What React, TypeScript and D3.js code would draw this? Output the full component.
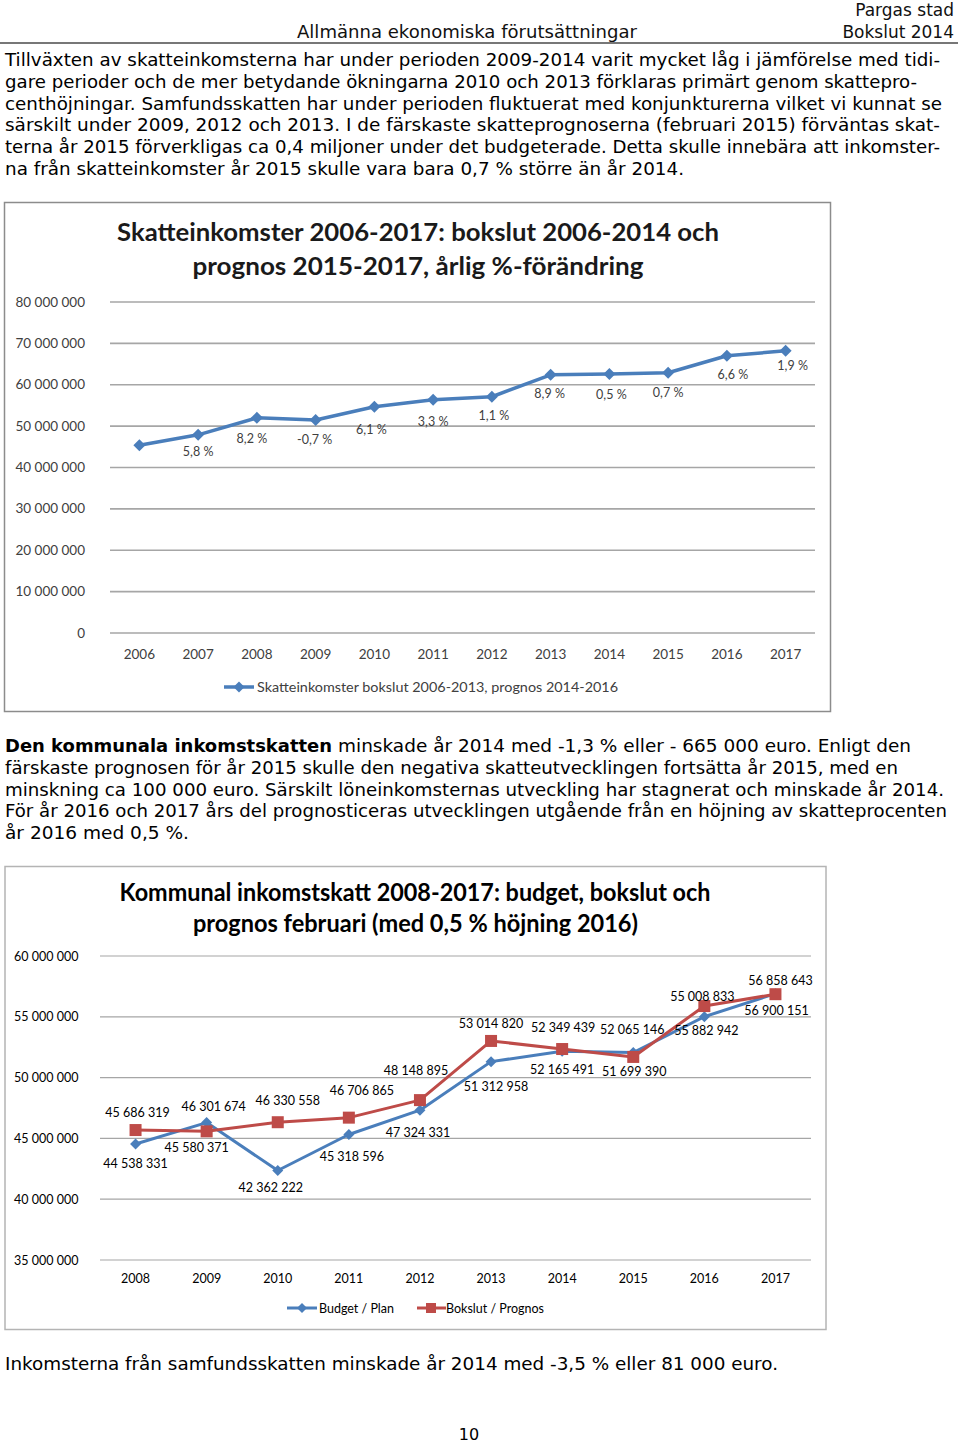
import React from "react";
import * as d3 from "d3";

// ---------- data ----------
const years1 = ["2006", "2007", "2008", "2009", "2010", "2011", "2012", "2013", "2014", "2015", "2016", "2017"];
const tax1 = [45400000, 47900000, 52000000, 51500000, 54700000, 56400000, 57100000, 62400000, 62600000, 62900000, 67000000, 68200000];
const pct1 = ["", "5,8 %", "8,2 %", "-0,7 %", "6,1 %", "3,3 %", "1,1 %", "8,9 %", "0,5 %", "0,7 %", "6,6 %", "1,9 %"];
const yTicks1 = [0, 10000000, 20000000, 30000000, 40000000, 50000000, 60000000, 70000000, 80000000];
const legend1 = "Skatteinkomster bokslut 2006-2013, prognos 2014-2016";

const years2 = ["2008", "2009", "2010", "2011", "2012", "2013", "2014", "2015", "2016", "2017"];
const budget2 = [44538331, 46301674, 42362222, 45318596, 47324331, 51312958, 52165491, 52065146, 55008833, 56900151];
const bokslut2 = [45686319, 45580371, 46330558, 46706865, 48148895, 53014820, 52349439, 51699390, 55882942, 56858643];
const yTicks2 = [35000000, 40000000, 45000000, 50000000, 55000000, 60000000];
const seriesNames2 = ["Budget / Plan", "Bokslut / Prognos"];

// ---------- label placement (layout only) ----------
const pctOffsets1: [number, number][] = [[0, 0], [0, 17], [-5, 21], [-1, 20], [-3, 23], [0, 22], [2, 19], [-1, 19], [2, 21], [0, 20], [6, 19], [7, 15]];
const budgetOffsets2: [number, number][] = [[0, 24], [7, -12], [-7, 22], [3, 26], [-2, 27], [5, 29], [0, 23], [-1, -18], [-2, -16], [1, 21]];
const bokslutOffsets2: [number, number][] = [[2, -13], [-10, 21], [10, -17], [13, -23], [-4, -25], [0, -13], [1, -17], [1, 19], [2, 29], [5, -9]];

// ---------- text ----------
const para1 = [
  { t: "Tillväxten av skatteinkomsterna har under perioden 2009-2014 varit mycket låg i jämförelse med tidi-", w: 935 },
  { t: "gare perioder och de mer betydande ökningarna 2010 och 2013 förklaras primärt genom skattepro-", w: 912 },
  { t: "centhöjningar. Samfundsskatten har under perioden fluktuerat med konjunkturerna vilket vi kunnat se", w: 937 },
  { t: "särskilt under 2009, 2012 och 2013.  I de färskaste skatteprognoserna (februari 2015) förväntas skat-", w: 935 },
  { t: "terna år 2015 förverkligas ca 0,4 miljoner under det budgeterade. Detta skulle innebära att inkomster-", w: 935 },
  { t: "na från skatteinkomster år 2015 skulle vara bara 0,7 % större än år 2014.", w: 679 },
];
const para2 = [
  { t: "minskade år 2014 med -1,3 % eller - 665 000 euro. Enligt den", w: 573 },
  { t: "färskaste prognosen för år 2015 skulle den negativa skatteutvecklingen fortsätta år 2015, med en", w: 893 },
  { t: "minskning ca 100 000 euro. Särskilt löneinkomsternas utveckling har stagnerat och minskade år 2014.", w: 939 },
  { t: "För år 2016 och 2017 års del prognosticeras utvecklingen utgående från en höjning av skatteprocenten", w: 942 },
  { t: "år 2016 med 0,5 %.", w: 184 },
];

const BODY = "'DejaVu Sans', Verdana, sans-serif";
const CAL = "Lato, 'Open Sans', sans-serif";
const BLUE = "#4A7EBB";
const RED = "#BE4B48";
const GRID = "#a6a6a6";

const fmt = (v: number) => d3.format(",")(v).replace(/,/g, " ");

const diamond = (size: number) => {
  const s = size / 2;
  return `M0,${-s}L${s},0L0,${s}L${-s},0Z`;
};

function Chart1() {
  const x = d3.scaleBand().domain(years1).range([110, 815]);
  const cx = (d: string) => (x(d) as number) + x.bandwidth() / 2;
  const y = d3.scaleLinear().domain([0, 80000000]).range([633, 302]);
  const line = d3.line<number>().x((_, i) => cx(years1[i])).y((d) => y(d));
  return (
    <g>
      <rect x={4.5} y={202.5} width={826} height={509} fill="#fff" stroke="#8c8c8c" strokeWidth={1.5} />
      <text x={418} y={241} textAnchor="middle" fontFamily={CAL} fontWeight={700} fontSize={25} fill="#1a1a1a" textLength={602} lengthAdjust="spacingAndGlyphs">
        Skatteinkomster 2006-2017: bokslut 2006-2014 och
      </text>
      <text x={418} y={275} textAnchor="middle" fontFamily={CAL} fontWeight={700} fontSize={25} fill="#1a1a1a" textLength={451} lengthAdjust="spacingAndGlyphs">
        prognos 2015-2017, årlig %-förändring
      </text>
      {yTicks1.map((t) => (
        <g key={t}>
          <line x1={110} x2={815} y1={y(t)} y2={y(t)} stroke={GRID} strokeWidth={1.6} />
          <text x={85} y={y(t) + 4.5} textAnchor="end" fontFamily={CAL} fontSize={13.5} fill="#404040">
            {fmt(t)}
          </text>
        </g>
      ))}
      {years1.map((yr) => (
        <text key={yr} x={cx(yr)} y={659} textAnchor="middle" fontFamily={CAL} fontSize={13.5} fill="#404040">
          {yr}
        </text>
      ))}
      <path d={line(tax1) || ""} fill="none" stroke={BLUE} strokeWidth={3.5} strokeLinejoin="round" />
      {tax1.map((v, i) => (
        <path key={i} d={diamond(12)} transform={`translate(${cx(years1[i])},${y(v)})`} fill={BLUE} />
      ))}
      {tax1.map((v, i) =>
        pct1[i] ? (
          <text key={"p" + i} x={cx(years1[i]) + pctOffsets1[i][0]} y={y(v) + pctOffsets1[i][1] + 4.5} textAnchor="middle" fontFamily={CAL} fontSize={12.5} fill="#404040">
            {pct1[i]}
          </text>
        ) : null
      )}
      <line x1={224} x2={254} y1={687} y2={687} stroke={BLUE} strokeWidth={3.5} />
      <path d={diamond(11)} transform="translate(239,687)" fill={BLUE} />
      <text x={257} y={691.5} fontFamily={CAL} fontSize={13.5} fill="#404040" textLength={361} lengthAdjust="spacingAndGlyphs">
        {legend1}
      </text>
    </g>
  );
}

function Chart2() {
  const x = d3.scaleBand().domain(years2).range([100, 811]);
  const cx = (d: string) => (x(d) as number) + x.bandwidth() / 2;
  const y = d3.scaleLinear().domain([35000000, 60000000]).range([1260, 956]);
  const line = d3.line<number>().x((_, i) => cx(years2[i])).y((d) => y(d));
  return (
    <g>
      <rect x={5} y={866.5} width={821} height={463} fill="#fff" stroke="#b4b4b4" strokeWidth={1.5} />
      <text x={415} y={901} textAnchor="middle" fontFamily={CAL} fontWeight={700} fontSize={24} fill="#000" textLength={591} lengthAdjust="spacingAndGlyphs">
        Kommunal inkomstskatt 2008-2017: budget, bokslut och
      </text>
      <text x={415.5} y={932} textAnchor="middle" fontFamily={CAL} fontWeight={700} fontSize={24} fill="#000" textLength={445} lengthAdjust="spacingAndGlyphs">
        prognos februari (med 0,5 % höjning 2016)
      </text>
      {yTicks2.map((t) => (
        <g key={t}>
          <line x1={100} x2={811} y1={y(t)} y2={y(t)} stroke={GRID} strokeWidth={1.2} />
          <text x={14} y={y(t) + 4.5} fontFamily={CAL} fontSize={12.5} fill="#000">
            {fmt(t)}
          </text>
        </g>
      ))}
      {years2.map((yr) => (
        <text key={yr} x={cx(yr)} y={1283} textAnchor="middle" fontFamily={CAL} fontSize={12.5} fill="#000">
          {yr}
        </text>
      ))}
      <path d={line(budget2) || ""} fill="none" stroke={BLUE} strokeWidth={3} strokeLinejoin="round" />
      {budget2.map((v, i) => (
        <path key={"b" + i} d={diamond(11)} transform={`translate(${cx(years2[i])},${y(v)})`} fill={BLUE} />
      ))}
      <path d={line(bokslut2) || ""} fill="none" stroke={RED} strokeWidth={3} strokeLinejoin="round" />
      {bokslut2.map((v, i) => (
        <rect key={"r" + i} x={cx(years2[i]) - 6} y={y(v) - 6} width={12} height={12} fill={RED} />
      ))}
      {budget2.map((v, i) => (
        <text key={"bl" + i} x={cx(years2[i]) + budgetOffsets2[i][0]} y={y(v) + budgetOffsets2[i][1]} textAnchor="middle" fontFamily={CAL} fontSize={12.5} fill="#000">
          {fmt(v)}
        </text>
      ))}
      {bokslut2.map((v, i) => (
        <text key={"rl" + i} x={cx(years2[i]) + bokslutOffsets2[i][0]} y={y(v) + bokslutOffsets2[i][1]} textAnchor="middle" fontFamily={CAL} fontSize={12.5} fill="#000">
          {fmt(v)}
        </text>
      ))}
      <line x1={287} x2={317} y1={1308} y2={1308} stroke={BLUE} strokeWidth={3} />
      <path d={diamond(10)} transform="translate(302,1308)" fill={BLUE} />
      <text x={319} y={1312.5} fontFamily={CAL} fontSize={12.5} fill="#000">
        {seriesNames2[0]}
      </text>
      <line x1={417} x2={446} y1={1308} y2={1308} stroke={RED} strokeWidth={3} />
      <rect x={426} y={1303} width={10} height={10} fill={RED} />
      <text x={446} y={1312.5} fontFamily={CAL} fontSize={12.5} fill="#000">
        {seriesNames2[1]}
      </text>
    </g>
  );
}

export default function App() {
  return (
    <svg width={960} height={1443} style={{ position: "absolute", left: 0, top: 0, display: "block", background: "#fff" }}>
      <rect x={0} y={0} width={960} height={1443} fill="#fff" />
      {/* header */}
      <text x={954} y={16} textAnchor="end" fontFamily={BODY} fontSize={17} fill="#111">Pargas stad</text>
      <text x={954} y={38} textAnchor="end" fontFamily={BODY} fontSize={17} fill="#111">Bokslut 2014</text>
      <text x={297} y={38} fontFamily={BODY} fontSize={17} fill="#111" textLength={340} lengthAdjust="spacingAndGlyphs">
        Allmänna ekonomiska förutsättningar
      </text>
      <line x1={0} x2={958} y1={43} y2={43} stroke="#777" strokeWidth={2} />
      {para1.map((l, i) => (
        <text key={"a" + i} x={5} y={66 + i * 21.8} fontFamily={BODY} fontSize={17} fill="#000" textLength={l.w} lengthAdjust="spacingAndGlyphs">
          {l.t}
        </text>
      ))}
      <Chart1 />
      <text x={5} y={752} fontFamily={BODY} fontSize={17} fontWeight={700} fill="#000" textLength={327} lengthAdjust="spacingAndGlyphs">
        Den kommunala inkomstskatten
      </text>
      {para2.map((l, i) => (
        <text key={"b" + i} x={i === 0 ? 338 : 5} y={752 + i * 21.8} fontFamily={BODY} fontSize={17} fill="#000" textLength={l.w} lengthAdjust="spacingAndGlyphs">
          {l.t}
        </text>
      ))}
      <Chart2 />
      <text x={5} y={1370} fontFamily={BODY} fontSize={17} fill="#000" textLength={773} lengthAdjust="spacingAndGlyphs">
        Inkomsterna från samfundsskatten minskade år 2014 med -3,5 % eller 81 000 euro.
      </text>
      <text x={469} y={1440} textAnchor="middle" fontFamily={BODY} fontSize={16} fill="#000">10</text>
    </svg>
  );
}
